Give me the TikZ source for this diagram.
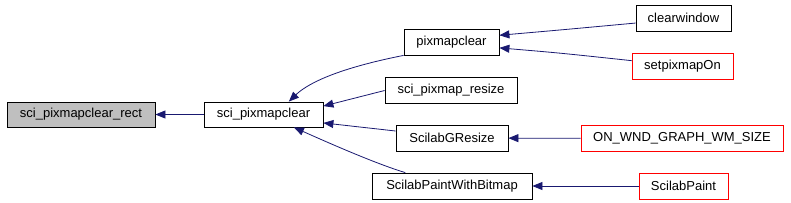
\documentclass[tikz,border=0pt]{standalone}
\usepackage{fontspec}
\setmainfont{Liberation Sans}
\usetikzlibrary{arrows.meta}

\definecolor{edgeblue}{RGB}{25,25,112}
\definecolor{rootgray}{RGB}{191,191,191}

\begin{document}
\begin{tikzpicture}[x=1pt, y=-1pt, >={Triangle[length=10pt,width=8pt]},
    fn/.style={draw, thick, minimum height=26pt, inner sep=0pt, font=\fontsize{13}{15}\selectfont},
    ext/.style={fn, draw=red},
    call/.style={<-, edgeblue, thick}]
    \useasboundingbox (0,0) rectangle (791,202);

    \node[fn, fill=rootgray, minimum width=148pt, minimum height=25pt] (rect) at (81,114.5) {sci\_pixmapclear\_rect};
    \node[fn, minimum width=119pt, minimum height=25pt] (clear) at (263.5,114.5) {sci\_pixmapclear};

    \node[fn, minimum width=95pt] (pixclear) at (451.5,42) {pixmapclear};
    \node[fn, minimum width=132pt] (resize) at (451,90.5) {sci\_pixmap\_resize};
    \node[fn, minimum width=112pt] (gresize) at (452,138) {ScilabGResize};
    \node[fn, minimum width=160pt] (paintbmp) at (452,186) {ScilabPaintWithBitmap};

    \node[fn, minimum width=95pt] (clearwin) at (683.5,18) {clearwindow};
    \node[ext, minimum width=101pt] (setpix) at (682.5,66) {setpixmapOn};
    \node[ext, minimum width=202pt] (wmsize) at (682,138.5) {ON\_WND\_GRAPH\_WM\_SIZE};
    \node[ext, minimum width=89pt] (paint) at (683.5,186) {ScilabPaint};

    \draw[call] (rect) -- (clear);
    \draw[call] (clear.27) .. controls (305,86) and (330,70) .. (pixclear.south west);
    \draw[call] (clear.8) -- (resize.west);
    \draw[call] (clear.-8) -- ([yshift=7pt]gresize.west);
    \draw[call] (clear.-23) .. controls (340,148) and (380,165) .. (paintbmp.164);

    \draw[call] (pixclear.8) .. controls (560,30) .. (clearwin.186);
    \draw[call] (pixclear.-7) .. controls (560,53) .. (setpix.174);
    \draw[call] (gresize) -- (wmsize);
    \draw[call] (paintbmp) -- (paint);
\end{tikzpicture}
\end{document}
